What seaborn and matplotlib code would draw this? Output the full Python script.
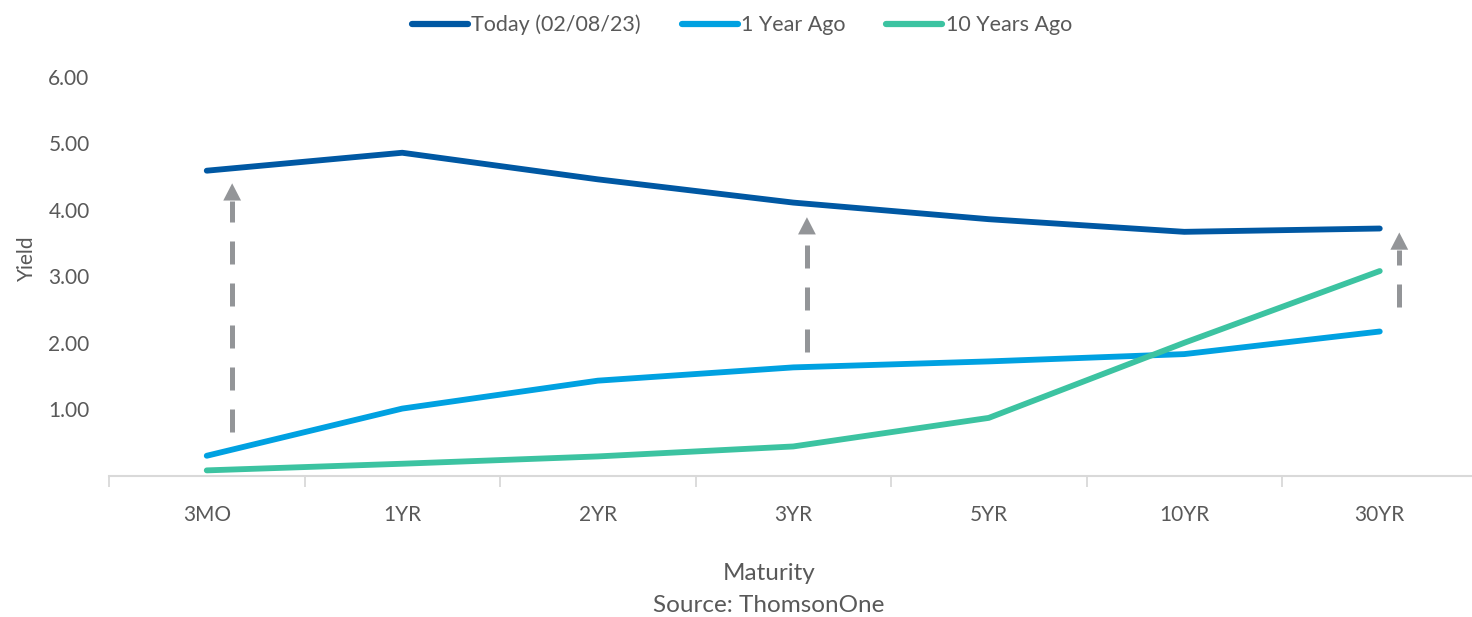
import matplotlib
matplotlib.use("Agg")
import matplotlib.pyplot as plt
import seaborn as sns
import pandas as pd
import numpy as np

maturities = ["3MO", "1YR", "2YR", "3YR", "5YR", "10YR", "30YR"]
today = [4.59, 4.86, 4.46, 4.11, 3.86, 3.67, 3.72]
one_year_ago = [0.30, 1.01, 1.43, 1.63, 1.72, 1.83, 2.17]
ten_years_ago = [0.08, 0.18, 0.29, 0.44, 0.87, 2.00, 3.08]
series_names = ["Today (02/08/23)", "1 Year Ago", "10 Years Ago"]
colors = ["#0058A3", "#00A1E1", "#3CC3A1"]
y_ticks = [1, 2, 3, 4, 5, 6]

# dashed-arrow annotations (category position, from, to)
arrow_x = [0.13, 3.07, 6.10]
arrow_y0 = [0.66, 1.86, 2.54]
arrow_y1 = [4.40, 3.89, 3.66]

sns.set_theme(style="white")
plt.rcParams["font.family"] = ["Lato", "DejaVu Sans"]

rows = []
for name, vals in zip(series_names, [today, one_year_ago, ten_years_ago]):
    for i, v in enumerate(vals):
        rows.append({"pos": i, "Maturity": maturities[i], "Yield": v, "series": name})
df = pd.DataFrame(rows)

fig = plt.figure(figsize=(14.72, 6.17), dpi=100)
W, H = 1472, 617
ax = fig.add_axes([109 / W, 1 - 475.7 / H, 1368.5 / W, (475.7 - 77) / H])

sns.lineplot(data=df, x="pos", y="Yield", hue="series", hue_order=series_names,
             palette=colors, linewidth=4.2, ax=ax, legend=True)
for ln in ax.get_lines():
    ln.set_solid_capstyle("round")
    ln.set_solid_joinstyle("round")

gray = "#939598"
for x, y0, y1 in zip(arrow_x, arrow_y0, arrow_y1):
    head = 0.27
    ax.plot([x, x], [y0, y1 - head], color=gray, lw=3.6, dashes=(4.6, 3.8),
            solid_capstyle="butt", dash_capstyle="butt", zorder=1)
    ax.annotate("", xy=(x, y1), xytext=(x, y1 - head - 0.02),
                arrowprops=dict(arrowstyle="-|>,head_length=0.62,head_width=0.32",
                                color=gray, lw=0, mutation_scale=20,
                                shrinkA=0, shrinkB=0), zorder=1)

ax.set_xlim(-0.5, 6.5)
ax.set_ylim(0, 6)
ax.set_yticks(y_ticks)
ax.set_yticklabels([f"{v:.2f}" for v in y_ticks])
ax.set_xticks(np.arange(-0.5, 7, 1.0))
ax.set_xticklabels([""] * 8)
ax.set_xticks(range(len(maturities)), minor=True)
ax.set_xticklabels(maturities, minor=True)

ax.tick_params(axis="y", length=0, labelsize=15, labelcolor="#595959", pad=14)
ax.tick_params(axis="x", which="major", length=8, width=1.3, color="#D9D9D9",
               direction="out", bottom=True)
ax.tick_params(axis="x", which="minor", length=0, labelsize=15,
               labelcolor="#595959", pad=21)

for s in ["top", "right", "left"]:
    ax.spines[s].set_visible(False)
ax.spines["bottom"].set_color("#D9D9D9")
ax.spines["bottom"].set_linewidth(1.5)
ax.grid(False)

ax.set_xlabel("")
ax.set_ylabel("")
fig.text(27 / W, 1 - 258 / H, "Yield", rotation=90, ha="center", va="center",
         fontsize=15, color="#595959")
fig.text(769 / W, 1 - 574 / H, "Maturity", ha="center", va="center",
         fontsize=17.5, color="#595959")
fig.text(769 / W, 1 - 606 / H, "Source: ThomsonOne", ha="center", va="center",
         fontsize=17.5, color="#595959")

handles, labels = ax.get_legend_handles_labels()
for h in handles:
    h.set_linewidth(4.5)
    h.set_solid_capstyle("round")
leg = fig.legend(handles, labels, loc="center", bbox_to_anchor=(742 / W, 1 - 25 / H),
                 ncol=3, frameon=False, fontsize=15.5, handlelength=2.6,
                 handletextpad=0.15, columnspacing=1.9)
for t in leg.get_texts():
    t.set_color("#595959")
if ax.get_legend():
    ax.get_legend().remove()

fig.savefig("out.png", dpi=100)
